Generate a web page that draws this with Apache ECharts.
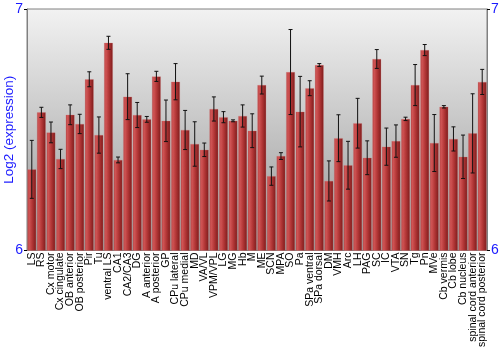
<!DOCTYPE html>
<html>
<head>
<meta charset="utf-8">
<script src="https://cdn.jsdelivr.net/npm/echarts@6/dist/echarts.min.js"></script>
<style>html,body{margin:0;padding:0;background:#fff;}#c{width:500px;height:350px;}</style>
</head>
<body>
<div id="c"></div>
<script>
var categories = ["LS","RS","Cx motor","Cx cingulate","OB anterior","OB posterior","Pir","Tu","ventral LS","CA1","CA2/CA3","DG","A anterior","A posterior","GP","CPu lateral","CPu medial","MD","VA/VL","VPM/VPL","LG","MG","Hb","M","ME","SCN","MPA","SO","Pa","SPa ventral","SPa dorsal","DM","VMH","Arc","LH","PAG","SC","IC","VTA","SN","Tg","Pn","MVe","Cb vermis","Cb lobe","Cb nucleus","spinal cord anterior","spinal cord posterior"];
var values = [6.336,6.572,6.489,6.379,6.562,6.524,6.709,6.478,6.860,6.375,6.637,6.561,6.543,6.721,6.537,6.699,6.499,6.441,6.417,6.586,6.552,6.537,6.557,6.496,6.685,6.308,6.391,6.739,6.575,6.672,6.768,6.288,6.465,6.353,6.527,6.384,6.793,6.430,6.453,6.545,6.685,6.830,6.445,6.595,6.462,6.388,6.485,6.698];
var errors = [0.120,0.021,0.043,0.040,0.041,0.040,0.031,0.075,0.027,0.012,0.095,0.052,0.012,0.021,0.086,0.075,0.081,0.092,0.028,0.050,0.023,0.004,0.046,0.070,0.037,0.038,0.014,0.176,0.146,0.031,0.006,0.083,0.097,0.099,0.103,0.070,0.039,0.077,0.067,0.007,0.085,0.023,0.118,0.005,0.050,0.090,0.164,0.052];
var yTicks = [6, 7];

var errData = values.map(function (v, i) { return [i, v, errors[i]]; });
var chart = echarts.init(document.getElementById('c'));
var blue = '#1a1aff';
chart.setOption({
  animation: false,
  textStyle: { fontFamily: 'Liberation Sans, Arial, sans-serif' },
  grid: {
    left: 27, right: 13, top: 9, bottom: 99.5, show: true,
    containLabel: false, outerBoundsMode: 'none',
    borderColor: '#808080', borderWidth: 1,
    backgroundColor: new echarts.graphic.LinearGradient(0, 0, 0, 1, [
      { offset: 0, color: '#f2f2f2' },
      { offset: 1, color: '#979797' }
    ])
  },
  xAxis: {
    type: 'category', data: categories,
    axisLine: { show: false }, axisTick: { show: false },
    axisLabel: { interval: 0, rotate: 90, fontSize: 10.5, color: '#000', margin: 2 }
  },
  yAxis: [{
    type: 'value', min: yTicks[0], max: yTicks[1], interval: 1,
    name: 'Log2 (expression)', nameLocation: 'middle', nameGap: 11, nameMoveOverlap: false,
    nameTextStyle: { color: blue, fontSize: 13.5 },
    axisLine: { show: true, lineStyle: { color: '#808080' } },
    axisTick: { show: true, length: 3, lineStyle: { color: '#000' } },
    axisLabel: { color: blue, fontSize: 14, margin: 4 },
    splitLine: { show: false }
  }, {
    type: 'value', min: yTicks[0], max: yTicks[1], interval: 1, position: 'right',
    axisLine: { show: true, lineStyle: { color: '#808080' } },
    axisTick: { show: true, length: 3, lineStyle: { color: '#000' } },
    axisLabel: { color: blue, fontSize: 14, margin: 4 },
    splitLine: { show: false }
  }],
  series: [{
    type: 'bar', data: values, barCategoryGap: '8%',
    itemStyle: {
      color: new echarts.graphic.LinearGradient(0, 0, 1, 0, [
        { offset: 0, color: '#b04040' },
        { offset: 0.2, color: '#d05454' },
        { offset: 0.55, color: '#b23636' },
        { offset: 1, color: '#7c1b1b' }
      ]),
      borderColor: 'rgba(220,120,120,0.5)', borderWidth: 0.5
    }
  }, {
    type: 'custom', data: errData, z: 10,
    renderItem: function (params, api) {
      var x = api.value(0), v = api.value(1), e = api.value(2);
      var hi = api.coord([x, v + e]);
      var lo = api.coord([x, v - e]);
      var cw = 2;
      var st = { stroke: '#111', lineWidth: 1 };
      return {
        type: 'group', children: [
          { type: 'line', shape: { x1: hi[0], y1: hi[1], x2: lo[0], y2: lo[1] }, style: st },
          { type: 'line', shape: { x1: hi[0] - cw, y1: hi[1], x2: hi[0] + cw, y2: hi[1] }, style: st },
          { type: 'line', shape: { x1: lo[0] - cw, y1: lo[1], x2: lo[0] + cw, y2: lo[1] }, style: st }
        ]
      };
    }
  }]
});
</script>
</body>
</html>
